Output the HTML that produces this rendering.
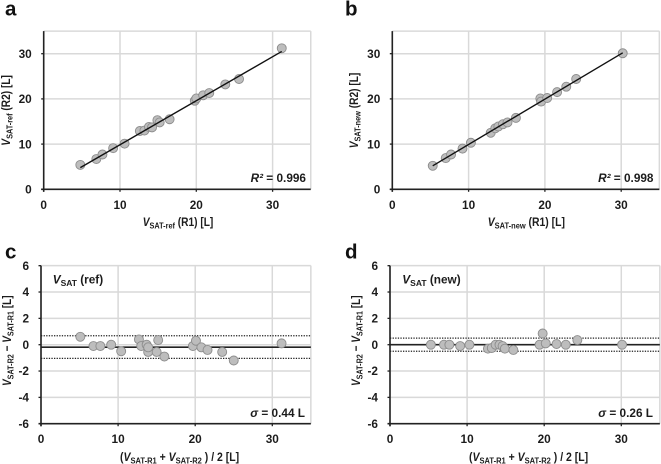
<!DOCTYPE html>
<html lang="en">
<head>
<meta charset="utf-8">
<title>VSAT repeatability charts</title>
<style>
html,body{margin:0;padding:0;background:#fff;width:661px;height:464px;overflow:hidden}
svg{display:block;font-family:"Liberation Sans",sans-serif;font-weight:bold;fill:#1c1c1c;filter:blur(0.3px)}
svg text{font-size:11.8px}
svg .sub{font-size:8.5px}
svg .letter{font-size:20.5px;fill:#111}
</style>
</head>
<body>
<svg id="chart" width="661" height="464" viewBox="0 0 661 464" xmlns="http://www.w3.org/2000/svg">
<text class="letter" x="5" y="15.7">a</text>
<text class="letter" x="345" y="15.7">b</text>
<text class="letter" x="5" y="258.7">c</text>
<text class="letter" x="345" y="258.7">d</text>
<g id="marks"></g>

<text class="fit" data-w="70.7" transform="translate(142.7,226)"><tspan font-style="italic">V</tspan><tspan class="sub" dy="2.5">SAT-ref</tspan><tspan dy="-2.5"> (R1) [L]</tspan></text>
<text class="fit" data-w="70.7" transform="translate(10,145.7) rotate(-90)"><tspan font-style="italic">V</tspan><tspan class="sub" dy="2.5">SAT-ref</tspan><tspan dy="-2.5"> (R2) [L]</tspan></text>
<text x="306" y="182" text-anchor="end"><tspan font-style="italic">R²</tspan> = 0.996</text>

<text class="fit" data-w="77.3" transform="translate(487.7,226)"><tspan font-style="italic">V</tspan><tspan class="sub" dy="2.5">SAT-new</tspan><tspan dy="-2.5"> (R1) [L]</tspan></text>
<text class="fit" data-w="75.7" transform="translate(358,148.3) rotate(-90)"><tspan font-style="italic">V</tspan><tspan class="sub" dy="2.5">SAT-new</tspan><tspan dy="-2.5"> (R2) [L]</tspan></text>
<text x="653.5" y="182" text-anchor="end"><tspan font-style="italic">R²</tspan> = 0.998</text>

<text class="fit" data-w="119.3" transform="translate(120,461)">(<tspan font-style="italic">V</tspan><tspan class="sub" dy="2.5">SAT-R1</tspan><tspan dy="-2.5"> + </tspan><tspan font-style="italic">V</tspan><tspan class="sub" dy="2.5">SAT-R2</tspan><tspan dy="-2.5"> ) / 2 [L]</tspan></text>
<text class="fit" data-w="90.7" transform="translate(11,386) rotate(-90)"><tspan font-style="italic">V</tspan><tspan class="sub" dy="2.5">SAT-R2</tspan><tspan dy="-2.5"> − </tspan><tspan font-style="italic">V</tspan><tspan class="sub" dy="2.5">SAT-R1</tspan><tspan dy="-2.5"> [L]</tspan></text>
<text x="52.7" y="283.7"><tspan font-style="italic">V</tspan><tspan class="sub" dy="2.5">SAT</tspan><tspan dy="-2.5"> (ref)</tspan></text>
<text x="305" y="417" text-anchor="end"><tspan font-style="italic">σ</tspan> = 0.44 L</text>

<text class="fit" data-w="119.3" transform="translate(469,461)">(<tspan font-style="italic">V</tspan><tspan class="sub" dy="2.5">SAT-R1</tspan><tspan dy="-2.5"> + </tspan><tspan font-style="italic">V</tspan><tspan class="sub" dy="2.5">SAT-R2</tspan><tspan dy="-2.5"> ) / 2 [L]</tspan></text>
<text class="fit" data-w="90.7" transform="translate(360,386) rotate(-90)"><tspan font-style="italic">V</tspan><tspan class="sub" dy="2.5">SAT-R2</tspan><tspan dy="-2.5"> − </tspan><tspan font-style="italic">V</tspan><tspan class="sub" dy="2.5">SAT-R1</tspan><tspan dy="-2.5"> [L]</tspan></text>
<text x="402.3" y="283.7"><tspan font-style="italic">V</tspan><tspan class="sub" dy="2.5">SAT</tspan><tspan dy="-2.5"> (new)</tspan></text>
<text x="653" y="417" text-anchor="end"><tspan font-style="italic">σ</tspan> = 0.26 L</text>
</svg>
<script>
// Tick labels
const xTicks = [0, 10, 20, 30];
const yTicksScatter = [0, 10, 20, 30];
const yTicksDiff = [-6, -4, -2, 0, 2, 4, 6];

// Panel a: R1 vs R2, reference
const aR1 = [4.8, 6.9, 7.7, 9.1, 10.6, 12.6, 13.2, 13.8, 14.2, 14.9, 15.2, 16.5, 19.8, 20.0, 20.9, 21.7, 23.8, 25.6, 31.2];
const aR2 = [5.4, 6.7, 7.7, 9.1, 10.1, 12.9, 13.0, 13.8, 13.7, 15.3, 14.8, 15.5, 19.6, 20.1, 20.8, 21.3, 23.2, 24.4, 31.2];
const aFitX = [4.8, 31.2];
const aFitY = [4.8, 30.5];

// Panel b: R1 vs R2, new
const bR1 = [5.3, 7.0, 7.7, 9.2, 10.3, 12.9, 13.5, 13.9, 14.5, 15.1, 16.2, 19.4, 19.5, 20.3, 21.6, 22.8, 24.1, 30.2];
const bR2 = [5.2, 6.9, 7.7, 9.0, 10.3, 12.5, 13.5, 13.9, 14.4, 14.8, 15.8, 20.1, 19.4, 20.2, 21.5, 22.7, 24.4, 30.1];
const bFitX = [5.3, 30.2];
const bFitY = [5.2, 30.2];

// Panel c: Bland-Altman, reference
const cMean = [5.1, 6.8, 7.7, 9.1, 10.4, 12.7, 13.0, 13.7, 13.9, 13.9, 15.0, 15.2, 16.0, 19.7, 20.1, 20.8, 21.6, 23.5, 25.0, 31.2];
const cDiff = [0.6, -0.1, -0.1, 0.0, -0.5, 0.4, -0.1, 0.0, -0.55, -0.2, -0.55, 0.35, -0.9, -0.1, 0.3, -0.2, -0.4, -0.55, -1.2, 0.1];
const cBias = -0.19;
const cLimits = [0.68, -1.04];

// Panel d: Bland-Altman, new
const dMean = [5.3, 7.0, 7.7, 9.1, 10.3, 12.7, 13.2, 13.7, 14.2, 14.6, 14.9, 16.0, 19.4, 19.8, 20.2, 21.6, 22.8, 24.3, 30.1];
const dDiff = [0.0, 0.0, 0.0, -0.1, 0.0, -0.3, -0.25, 0.0, 0.0, -0.1, -0.3, -0.4, 0.0, 0.85, 0.1, 0.05, 0.0, 0.35, 0.0];
const dBias = 0;
const dLimits = [0.5, -0.5];

const NS = 'http://www.w3.org/2000/svg';
const root = document.getElementById('marks');

function line(x1, y1, x2, y2, stroke, width, dash) {
  const el = document.createElementNS(NS, 'line');
  el.setAttribute('x1', x1);
  el.setAttribute('y1', y1);
  el.setAttribute('x2', x2);
  el.setAttribute('y2', y2);
  el.setAttribute('stroke', stroke);
  el.setAttribute('stroke-width', width);
  if (dash) el.setAttribute('stroke-dasharray', dash);
  root.appendChild(el);
  return el;
}

function label(x, y, anchor, value) {
  const el = document.createElementNS(NS, 'text');
  el.setAttribute('x', x);
  el.setAttribute('y', y);
  el.setAttribute('text-anchor', anchor);
  el.textContent = value;
  root.appendChild(el);
  return el;
}

function drawFrame(sx, sy, xMax, yMin, yMax, yTicks, tag) {
  const left = sx(0), right = sx(xMax), top = sy(yMax), bottom = sy(yMin);
  xTicks.concat([xMax]).forEach(function (t) {
    const g = line(sx(t), top, sx(t), bottom, '#d9d9d9', 1.5);
    
    
  });
  yTicks.concat(yMax === 35 ? [35] : []).forEach(function (t) {
    const g = line(left, sy(t), right, sy(t), '#d9d9d9', 1.5);
    
    
  });
  const yAxis = line(left, top, left, bottom + 2.5, '#222', 1.6);
  
  
  const xAxis = line(left - 2.5, bottom, right, bottom, '#222', 1.6);
  
  
  xTicks.forEach(function (t) {
    line(sx(t), bottom, sx(t), bottom + 2.5, '#222', 1.3);
    const l = label(sx(t), bottom + 19.5, 'middle', t);
    
    
  });
  yTicks.forEach(function (t) {
    line(left - 2.5, sy(t), left, sy(t), '#222', 1.3);
    const l = label(left - 12, sy(t) + 4.2, 'end', t);
    
    
  });
}

function drawPoints(sx, sy, xs, ys, tag) {
  xs.forEach(function (v, i) {
    const c = document.createElementNS(NS, 'circle');
    c.setAttribute('cx', sx(v));
    c.setAttribute('cy', sy(ys[i]));
    c.setAttribute('r', 4.5);
    c.setAttribute('fill', '#bdbdbd');
    c.setAttribute('stroke', '#8c8c8c');
    c.setAttribute('stroke-width', 0.9);
    
    
    root.appendChild(c);
  });
}

function scale(d0, p0, perUnit) {
  return function (v) { return p0 + (v - d0) * perUnit; };
}

function scatterPanel(x0, xs, ys, fitX, fitY, tag) {
  const sx = scale(0, x0, 7.63);
  const sy = scale(0, 189.3, -4.52);
  drawFrame(sx, sy, 35, 0, 35, yTicksScatter, tag);
  const fit = line(sx(fitX[0]), sy(fitY[0]), sx(fitX[1]), sy(fitY[1]), '#111', 1.4);
  drawPoints(sx, sy, xs, ys, tag);
  root.appendChild(fit);
  
  
}

function diffPanel(x0, xs, ys, bias, limits, tag) {
  const sx = scale(0, x0, 7.71);
  const sy = scale(0, 344.7, -13.17);
  drawFrame(sx, sy, 35, -6, 6, yTicksDiff, tag);
  const b = line(sx(0), sy(bias), sx(35), sy(bias), '#222', 1.6);
  
  
  limits.forEach(function (v) {
    const d = line(sx(0), sy(v), sx(35), sy(v), '#222', 1.2, '1.3 1.3');
    
    
  });
  drawPoints(sx, sy, xs, ys, tag);
}

scatterPanel(43.7, aR1, aR2, aFitX, aFitY, 'a');
scatterPanel(392.3, bR1, bR2, bFitX, bFitY, 'b');
diffPanel(41, cMean, cDiff, cBias, cLimits, 'c');
diffPanel(390, dMean, dDiff, dBias, dLimits, 'd');

// Fit the axis titles to the widths seen in the reference
document.querySelectorAll('text.fit').forEach(function (t) {
  const k = parseFloat(t.getAttribute('data-w')) / t.getComputedTextLength();
  t.setAttribute('transform', t.getAttribute('transform') + ' scale(' + k + ',1)');
});
</script>
</body>
</html>
